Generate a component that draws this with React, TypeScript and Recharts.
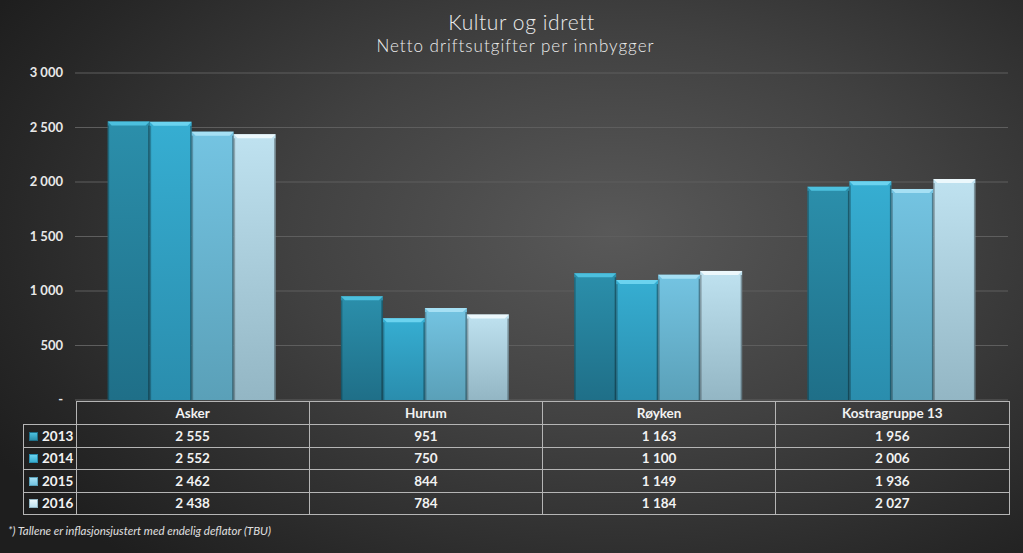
import { Bar, BarChart, CartesianGrid, XAxis, YAxis } from "recharts";

const categories = ["Asker", "Hurum", "Røyken", "Kostragruppe 13"];
const years = ["2013", "2014", "2015", "2016"];
const v2013 = [2555, 951, 1163, 1956];
const v2014 = [2552, 750, 1100, 2006];
const v2015 = [2462, 844, 1149, 1936];
const v2016 = [2438, 784, 1184, 2027];
const yTicks = [0, 500, 1000, 1500, 2000, 2500, 3000];

const series = [v2013, v2014, v2015, v2016];

// top / bottom / bevel colours per year
const PALETTE = [
  { top: "#2b8fab", bottom: "#1f6f88", bevel: "#4cc0de" },
  { top: "#36aed2", bottom: "#2a8dad", bevel: "#6bd3ef" },
  { top: "#74c4e2", bottom: "#5aa0b8", bevel: "#a6e0f4" },
  { top: "#bfe2f0", bottom: "#93b6c4", bevel: "#ecf8fc" },
];

const chartData = categories.map((name, i) => ({
  name,
  y2013: v2013[i],
  y2014: v2014[i],
  y2015: v2015[i],
  y2016: v2016[i],
}));

const fmt = (n: number) =>
  n === 0 ? "-" : String(n).replace(/\B(?=(\d{3})+(?!\d))/g, " ");

const FONT = "Lato, 'Open Sans', sans-serif";

const PLOT_LEFT = 75;
const PLOT_RIGHT = 1008;
const PLOT_BOTTOM = 400;

function BevelBar(props: any) {
  const { x, y, width, height, idx } = props;
  if (!height || height <= 0) return null;
  const c = PALETTE[idx];
  const b = 4;
  return (
    <g>
      <rect x={x} y={y} width={width} height={height} fill={`url(#grad${idx})`} />
      <polygon
        points={`${x},${y} ${x + width},${y} ${x + width - b},${y + b} ${x + b},${y + b}`}
        fill={c.bevel}
      />
      <rect x={x} y={y + b} width={1.5} height={height - b} fill="rgba(0,0,0,0.25)" />
      <rect x={x + width - 1.5} y={y + b} width={1.5} height={height - b} fill="rgba(0,0,0,0.35)" />
    </g>
  );
}

function YTick(props: any) {
  const { x, y, payload } = props;
  return (
    <text
      x={x - 4}
      y={y}
      dy={4}
      textAnchor="end"
      fill="#e8e8e8"
      fontSize={13}
      fontWeight={700}
      fontFamily={FONT}
    >
      {fmt(payload.value)}
    </text>
  );
}

function LegendSwatch({ idx }: { idx: number }) {
  const c = PALETTE[idx];
  return (
    <span
      style={{
        display: "inline-block",
        width: 7,
        height: 7,
        marginRight: 4,
        background: `linear-gradient(${c.bevel}, ${c.top})`,
        border: `1px solid ${c.bottom}`,
      }}
    />
  );
}

export default function App() {
  const colW = (PLOT_RIGHT - PLOT_LEFT) / categories.length;
  const rowH = 23;
  const cellBorder = "1px solid #b5b5b5";

  return (
    <div
      style={{
        position: "absolute",
        left: 0,
        top: 0,
        width: 1023,
        height: 553,
        overflow: "hidden",
        background:
          "radial-gradient(ellipse 70% 80% at 60% 42%, #595959 0%, #414141 45%, #272727 85%, #1e1e1e 100%)",
        fontFamily: FONT,
      }}
    >
      <div
        style={{
          position: "absolute",
          top: 9,
          left: 10,
          width: "100%",
          textAlign: "center",
          color: "#ececec",
          fontSize: 21,
          fontWeight: 300,
          letterSpacing: 0.6,
        }}
      >
        Kultur og idrett
      </div>
      <div
        style={{
          position: "absolute",
          top: 35,
          left: 4,
          width: "100%",
          textAlign: "center",
          color: "#ececec",
          fontSize: 17,
          fontWeight: 300,
          letterSpacing: 1,
        }}
      >
        Netto driftsutgifter per innbygger
      </div>

      <BarChart
        width={1023}
        height={553}
        data={chartData}
        margin={{ top: 73, right: 1023 - PLOT_RIGHT, bottom: 553 - PLOT_BOTTOM, left: 0 }}
        barCategoryGap="14%"
        barGap={0}
        style={{ position: "absolute", left: 0, top: 0 }}
      >
        <defs>
          {PALETTE.map((c, i) => (
            <linearGradient key={i} id={`grad${i}`} x1="0" y1="0" x2="0" y2="1">
              <stop offset="0%" stopColor={c.top} />
              <stop offset="100%" stopColor={c.bottom} />
            </linearGradient>
          ))}
        </defs>
        <CartesianGrid vertical={false} stroke="#5e5e5e" strokeWidth={1} />
        <XAxis dataKey="name" hide />
        <YAxis
          width={PLOT_LEFT}
          domain={[0, 3000]}
          ticks={yTicks}
          axisLine={false}
          tickLine={false}
          tick={<YTick />}
          interval={0}
        />
        {years.map((yr, i) => (
          <Bar
            key={yr}
            dataKey={`y${yr}`}
            isAnimationActive={false}
            shape={(p: any) => <BevelBar {...p} idx={i} />}
          />
        ))}
      </BarChart>

      {/* data table */}
      <div
        style={{
          position: "absolute",
          left: 23,
          top: PLOT_BOTTOM + 1,
          color: "#f2f2f2",
          fontSize: 13.5,
          fontWeight: 700,
        }}
      >
        <table style={{ borderCollapse: "collapse", tableLayout: "fixed" }}>
          <tbody>
            <tr style={{ height: rowH }}>
              <td style={{ width: PLOT_LEFT - 23, padding: 0 }} />
              {categories.map((c) => (
                <td
                  key={c}
                  style={{ width: colW - 1, border: cellBorder, textAlign: "center", padding: 0 }}
                >
                  {c}
                </td>
              ))}
            </tr>
            {years.map((yr, i) => (
              <tr key={yr} style={{ height: rowH - 0.5 }}>
                <td style={{ border: cellBorder, padding: "0 0 0 5px", whiteSpace: "nowrap" }}>
                  <LegendSwatch idx={i} />
                  {yr}
                </td>
                {series[i].map((v, j) => (
                  <td key={j} style={{ border: cellBorder, textAlign: "center", padding: 0 }}>
                    {fmt(v)}
                  </td>
                ))}
              </tr>
            ))}
          </tbody>
        </table>
      </div>

      <div
        style={{
          position: "absolute",
          left: 8,
          top: 524,
          color: "#e0e0e0",
          fontSize: 11.5,
          fontStyle: "italic",
        }}
      >
        *) Tallene er inflasjonsjustert med endelig deflator (TBU)
      </div>
    </div>
  );
}
